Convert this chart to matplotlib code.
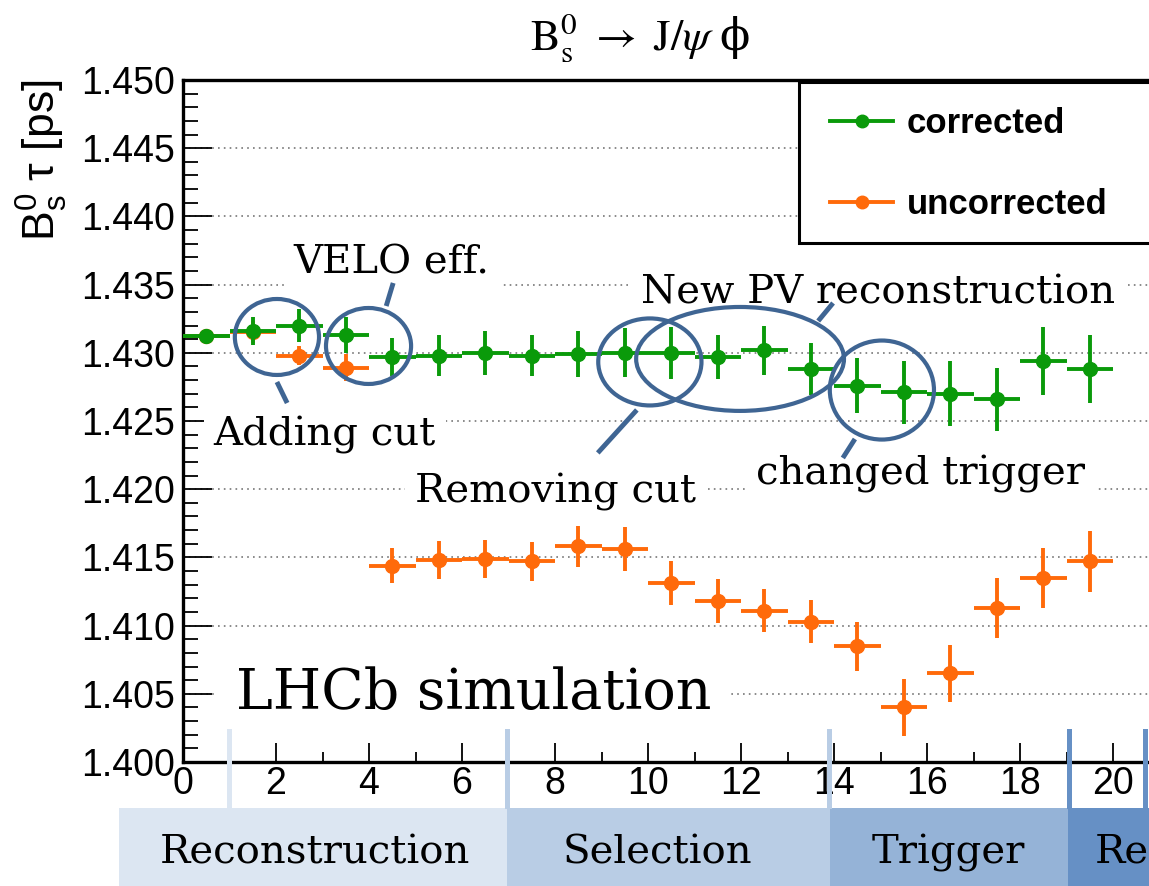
import numpy as np
import matplotlib.pyplot as plt
from matplotlib.patches import Ellipse, Rectangle
from matplotlib.lines import Line2D
from matplotlib.transforms import Affine2D
from matplotlib.ticker import MultipleLocator, FormatStrFormatter

plt.rcParams['mathtext.fontset'] = 'custom'
plt.rcParams['mathtext.rm'] = 'Liberation Sans'
plt.rcParams['mathtext.it'] = 'Liberation Sans:italic'

# bin centres of the processing steps
step = np.arange(20) + 0.5
tau_corr = [1.4312, 1.4316, 1.4320, 1.4313, 1.4297, 1.4298, 1.4300, 1.4298, 1.4299, 1.4300,
            1.4300, 1.4297, 1.4302, 1.4288, 1.4276, 1.4271, 1.4270, 1.4266, 1.4294, 1.4288]
err_corr = [0.0, 0.0010, 0.0012, 0.0013, 0.0014, 0.0015, 0.0016, 0.0015, 0.0017, 0.0018,
            0.0019, 0.0016, 0.0018, 0.0019, 0.0020, 0.0023, 0.0024, 0.0023, 0.0025, 0.0025]
tau_unc = [1.4312, 1.4315, 1.4298, 1.4289, 1.4144, 1.4148, 1.4149, 1.4147, 1.4158, 1.4156,
           1.4131, 1.4118, 1.4111, 1.4103, 1.4085, 1.4040, 1.4065, 1.4113, 1.4135, 1.4147]
err_unc = [0.0, 0.0008, 0.0007, 0.0010, 0.0013, 0.0014, 0.0014, 0.0014, 0.0015, 0.0016,
           0.0016, 0.0016, 0.0016, 0.0016, 0.0018, 0.0021, 0.0021, 0.0022, 0.0022, 0.0022]

stages = ["Reconstruction", "Selection", "Trigger", "Reconstruction"]
stage_colors = ['#dce6f2', '#b9cde5', '#95b3d7', '#6690c5']

green = '#0a9a0a'
orange = '#ff6a0a'
blue = '#3f6593'

W, H = 1149, 886
fig = plt.figure(figsize=(W / 100, H / 100), dpi=100)
pix = Affine2D().scale(1 / W, -1 / H).translate(0, 1) + fig.transFigure

ax = fig.add_axes([183 / W, 124 / H, 976.5 / W, 682 / H])
ax.set_xlim(0, 21)
ax.set_ylim(1.400, 1.450)

ax.errorbar(step, tau_unc, xerr=0.5, yerr=err_unc, fmt='o', color=orange, ms=10,
            elinewidth=2.8, capsize=0, zorder=4)
ax.errorbar(step, tau_corr, xerr=0.5, yerr=err_corr, fmt='o', color=green, ms=10,
            elinewidth=2.8, capsize=0, zorder=5)

ax.grid(axis='y', which='major', ls=(0, (1, 2.5)), color='#777777', lw=1.2)
ax.set_axisbelow(True)

ax.xaxis.set_major_locator(MultipleLocator(2))
ax.xaxis.set_minor_locator(MultipleLocator(1))
ax.yaxis.set_major_locator(MultipleLocator(0.005))
ax.yaxis.set_minor_locator(MultipleLocator(0.001))
ax.yaxis.set_major_formatter(FormatStrFormatter('%.3f'))
ax.tick_params(which='both', direction='in', top=False, right=False, width=1.3,
               labelsize=27, labelfontfamily='Liberation Sans')
ax.tick_params(axis='y', which='major', length=21, pad=6)
ax.tick_params(axis='y', which='minor', length=11)
ax.tick_params(axis='x', which='major', length=14, pad=3)
ax.tick_params(axis='x', which='minor', length=7)
for s in ax.spines.values():
    s.set_linewidth(2.4)

ax.set_ylabel(r'$\mathrm{B_s^0}$ τ [ps]', family='Liberation Sans', fontsize=32, loc='top')
ax.yaxis.set_label_coords(-0.116, 1.0)

fig.text(640, 50, r'$\mathrm{B_s^0}\ \rightarrow\ \mathrm{J}/\psi\ $ϕ', transform=pix,
         ha='center', va='baseline', fontsize=32, family='DejaVu Serif', math_fontfamily='stix')

# annotations
serif = dict(family='DejaVu Serif', ha='center', va='baseline', zorder=3)
box = dict(boxstyle='square,pad=0.25', fc='white', ec='none')
ax.text(3.05, 1.42324, 'Adding cut', size=29, bbox=box, **serif)
ax.text(4.49, 1.43585, 'VELO eff.', size=29, bbox=box, **serif)
ax.text(8.02, 1.41906, 'Removing cut', size=29, bbox=box, **serif)
ax.text(14.95, 1.43365, 'New PV reconstruction', size=29, bbox=box, **serif)
ax.text(15.85, 1.42031, 'changed trigger', size=29, bbox=box, **serif)
ax.text(6.26, 1.40389, 'LHCb simulation', size=40,
        bbox=dict(boxstyle='square,pad=0.35', fc='white', ec='none'), **serif)

for (cx, cy, w, h) in [(2.02, 1.43116, 1.81, 0.00557), (3.99, 1.43050, 1.83, 0.00557),
                       (10.04, 1.42933, 2.22, 0.00638), (11.98, 1.42955, 4.47, 0.00762),
                       (15.03, 1.42727, 2.24, 0.00726)]:
    ax.add_patch(Ellipse((cx, cy), w, h, fill=False, ec=blue, lw=3, zorder=6))
for (xs, ys) in [((2.02, 2.24), (1.42786, 1.42632)), ((4.52, 4.37), (1.43512, 1.43343)),
                 ((9.76, 8.92), (1.42581, 1.42266)), ((13.66, 13.98), (1.43233, 1.43365)),
                 ((14.45, 14.19), (1.42368, 1.42229))]:
    ax.plot(xs, ys, color=blue, lw=3.5, solid_capstyle='butt', zorder=6)

# legend
fig.add_artist(Rectangle((799, 82), 420, 161, transform=pix, fc='white', ec='black',
                         lw=2.2, zorder=2))
handles = [Line2D([], [], color=green, marker='o', ms=9, lw=2.8),
           Line2D([], [], color=orange, marker='o', ms=9, lw=2.8)]
fig.legend(handles, ['corrected', 'uncorrected'], loc='center left',
           bbox_to_anchor=(813, 164), bbox_transform=pix, frameon=False, borderpad=0,
           handlelength=1.8, handletextpad=0.4, labelspacing=1.4,
           prop=dict(family='Liberation Sans', weight='bold', size=25)).set_zorder(3)

# processing stage bands below the axis
edges = [119, 507, 830, 1068, 1260]
label_x = [315, 657, 948, 1095]
for i, name in enumerate(stages):
    fig.add_artist(Rectangle((edges[i], 808), edges[i + 1] - edges[i], 80, transform=pix,
                             fc=stage_colors[i], ec='none', zorder=2))
    fig.text(label_x[i], 864, name, transform=pix, family='DejaVu Serif', size=29,
             ha='left' if i == 3 else 'center', va='baseline', zorder=3)
for xs, c in [(229.5, '#dce6f2'), (507.5, '#b9cde5'), (829, '#b9cde5'),
              (1069, '#6690c5'), (1145, '#6690c5')]:
    fig.add_artist(Rectangle((xs - 2.5, 729), 5, 80, transform=pix, fc=c, ec='none', zorder=2))

fig.savefig('out.png', dpi=100)
